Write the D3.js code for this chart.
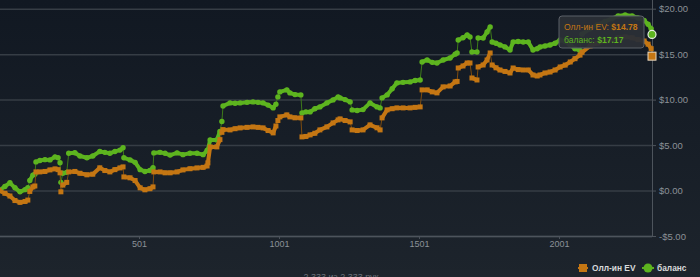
<!DOCTYPE html>
<html>
<head>
<meta charset="utf-8">
<script src="https://cdn.jsdelivr.net/npm/d3@7"></script>
<style>
    html, body { margin: 0; padding: 0; background: #151c25; }
    svg { display: block; font-family: "Liberation Sans", Arial, sans-serif; }
</style>
</head>
<body>
<svg id="chart"></svg>
<script>
// hand numbers (x) and the two running totals in dollars
const hands = [1, 22, 40, 58, 76, 94, 104, 111, 122, 129, 133, 147, 165, 183, 201, 212, 219, 222, 229, 243,
    250, 272, 290, 315, 336, 361, 379, 397, 415, 433, 444, 447, 469, 487, 505, 522, 540, 551, 554, 576,
    594, 612, 637, 658, 683, 708, 730, 744, 747, 755, 779, 790, 797, 801, 826, 844, 862, 887, 908, 926,
    944, 962, 980, 990, 997, 1004, 1029, 1040, 1058, 1079, 1083, 1097, 1112, 1129, 1147, 1172, 1194, 1212, 1219, 1237,
    1255, 1262, 1280, 1301, 1326, 1351, 1362, 1369, 1387, 1405, 1422, 1444, 1469, 1487, 1505, 1512, 1530, 1548, 1565, 1587,
    1612, 1630, 1637, 1641, 1658, 1673, 1683, 1690, 1708, 1712, 1730, 1744, 1755, 1762, 1776, 1790, 1808, 1826, 1837, 1855,
    1873, 1891, 1908, 1923, 1933, 1951, 1969, 1987, 2005, 2023, 2041, 2058, 2076, 2083, 2112, 2137, 2165, 2190, 2212, 2237,
    2262, 2283, 2305, 2319, 2330, 2333]

const allInEV = [0.00, -0.30, -0.60, -1.10, -1.30, -1.20, -1.05, -0.10, 0.40, 0.50, 2.05, 2.05, 2.10, 2.27, 2.38, 2.30, 1.95, -0.14, 0.60, 0.90,
    2.05, 2.10, 1.90, 1.73, 1.80, 2.50, 2.20, 2.05, 2.30, 2.49, 2.60, 1.50, 1.40, 1.10, 0.30, 0.08, 0.20, 0.40, 2.05, 2.05,
    1.95, 1.95, 2.05, 2.27, 2.40, 2.49, 2.55, 2.70, 3.04, 4.80, 4.80, 5.60, 6.40, 6.70, 6.67, 6.80, 6.89, 6.95, 7.00, 6.95,
    6.89, 6.60, 6.34, 7.10, 7.70, 8.10, 8.32, 8.10, 8.00, 7.99, 5.90, 5.95, 6.12, 6.30, 6.67, 7.00, 7.44, 7.77, 7.88, 7.70,
    7.55, 6.67, 6.60, 6.67, 7.22, 6.90, 6.67, 7.99, 8.87, 9.00, 9.09, 9.09, 9.09, 9.15, 9.20, 11.07, 11.07, 10.85, 10.74, 11.40,
    11.50, 11.95, 12.00, 13.48, 13.70, 14.03, 14.03, 12.38, 12.16, 13.59, 13.81, 14.36, 15.13, 13.81, 13.50, 13.26, 13.10, 12.93, 13.48, 13.30,
    13.26, 13.26, 12.71, 12.60, 12.71, 12.93, 13.04, 13.26, 13.59, 13.80, 14.14, 14.50, 14.90, 15.20, 15.90, 16.20, 16.40, 16.60, 16.80, 16.90,
    16.80, 16.60, 16.45, 16.10, 15.60, 14.78]

const balance = [0.00, 0.45, 0.85, 0.30, -0.14, 0.10, 0.30, 1.10, 1.70, 1.80, 3.15, 3.30, 3.40, 3.37, 3.70, 3.60, 3.05, 0.90, 1.90, 2.00,
    4.10, 4.15, 3.80, 3.60, 3.80, 4.30, 4.20, 4.10, 4.30, 4.45, 4.70, 3.60, 3.37, 3.10, 2.30, 2.10, 2.20, 2.50, 4.14, 4.20,
    4.10, 3.90, 4.14, 3.95, 4.10, 4.10, 3.95, 4.40, 4.47, 5.57, 5.57, 6.50, 7.60, 9.30, 9.64, 9.60, 9.64, 9.70, 9.75, 9.70,
    9.64, 9.40, 9.09, 9.50, 10.30, 10.85, 11.07, 10.74, 10.55, 10.52, 8.54, 8.65, 8.65, 9.00, 9.20, 9.64, 9.97, 10.30, 10.19, 10.00,
    9.75, 8.87, 8.80, 8.90, 9.64, 9.20, 9.09, 10.19, 10.52, 11.20, 11.84, 11.90, 11.95, 12.10, 12.16, 14.14, 14.36, 14.10, 14.03, 14.36,
    14.58, 15.00, 15.13, 16.56, 16.80, 17.11, 16.89, 15.24, 15.24, 16.78, 16.78, 17.44, 17.99, 16.34, 16.20, 16.01, 15.80, 15.46, 16.34, 16.40,
    16.34, 16.34, 15.46, 15.60, 15.79, 15.90, 16.01, 16.20, 16.56, 16.40, 16.00, 15.60, 15.40, 17.20, 17.80, 18.20, 18.60, 18.90, 19.20, 19.31,
    19.20, 18.98, 18.70, 18.30, 17.80, 17.17]

const seriesNames = ["Олл-ин EV", "баланс"]
const yTicks = [-5, 0, 5, 10, 15, 20]
const xTicks = [501, 1001, 1501, 2001]
const footerText = "2,333 из 2,333 рук"

const width = 700
const height = 277
const plotRight = 652
const plotBottom = 236

const orange = "#c47613"
const green = "#5db41f"

const svg = d3.select("#chart")
    .attr("width", width)
    .attr("height", height)

let defs = svg.append("defs")
let grad = defs.append("linearGradient")
    .attr("id", "bg")
    .attr("x1", 0).attr("y1", 0)
    .attr("x2", 0).attr("y2", 1)
grad.append("stop").attr("offset", "0%").attr("stop-color", "#111822")
grad.append("stop").attr("offset", "100%").attr("stop-color", "#1d242c")

svg.append("rect")
    .attr("width", width)
    .attr("height", height)
    .attr("fill", "url(#bg)")

let xScale = d3.scaleLinear()
    .domain([1, 2333])
    .range([-1, plotRight])

let yScale = d3.scaleLinear()
    .domain([-5, 20])
    .range([plotBottom, 8.7])

// grid
let grid = svg.append("g")
    .attr("transform", `translate(${plotRight}, 0)`)
    .call(d3.axisLeft(yScale).tickValues(yTicks).tickSize(plotRight).tickFormat(""))
grid.select(".domain").remove()
grid.selectAll("line").attr("stroke", "#363d45").attr("stroke-width", 1.5)

// right axis
let yAxis = svg.append("g")
    .attr("transform", `translate(${plotRight}, 0)`)
    .call(d3.axisRight(yScale)
        .tickValues(yTicks)
        .tickSize(4)
        .tickSizeOuter(0)
        .tickPadding(3)
        .tickFormat(d => (d < 0 ? "-$" : "$") + Math.abs(d).toFixed(2)))
yAxis.select(".domain").attr("stroke", "#4d545c").attr("d", `M0.5,0V${plotBottom}`)
yAxis.selectAll("line").attr("stroke", "#4d545c")
yAxis.selectAll("text")
    .attr("fill", "#8b9197")
    .style("font-size", "9.5px")

// bottom axis
let xAxis = svg.append("g")
    .attr("transform", `translate(0, ${plotBottom})`)
    .call(d3.axisBottom(xScale)
        .tickValues(xTicks)
        .tickSize(3)
        .tickSizeOuter(0)
        .tickPadding(2)
        .tickFormat(d3.format("d")))
xAxis.select(".domain").attr("stroke", "#4d545c").attr("stroke-width", 1.5).attr("d", `M0,0.5H${plotRight}`)
xAxis.selectAll("line").attr("stroke", "#4d545c")
xAxis.selectAll("text")
    .attr("fill", "#8b9197")
    .style("font-size", "9px")

// series
let pts = hands.map((h, i) => ({ hand: h, ev: allInEV[i], bal: balance[i] }))

function drawSeries(key, color, dark, shape)
{
    let g = svg.append("g")
    for (let i = 1; i < pts.length; i++)
    {
        let x0 = xScale(pts[i - 1].hand), x1 = xScale(pts[i].hand)
        let jump = (x1 - x0) < 2
        g.append("line")
            .attr("x1", x0).attr("y1", yScale(pts[i - 1][key]))
            .attr("x2", x1).attr("y2", yScale(pts[i][key]))
            .attr("stroke", jump ? dark : color)
            .attr("stroke-width", jump ? 1 : 4)
            .attr("stroke-linecap", "round")
    }
    if (shape === "square")
    {
        g.selectAll("rect")
            .data(pts)
            .enter()
            .append("rect")
            .attr("x", d => xScale(d.hand) - 2.5)
            .attr("y", d => yScale(d[key]) - 2.5)
            .attr("width", 5)
            .attr("height", 5)
            .attr("fill", color)
    }
    else
    {
        g.selectAll("circle")
            .data(pts)
            .enter()
            .append("circle")
            .attr("cx", d => xScale(d.hand))
            .attr("cy", d => yScale(d[key]))
            .attr("r", 2.7)
            .attr("fill", color)
    }
}

drawSeries("bal", green, "#3d7a1a", "circle")
drawSeries("ev", orange, "#7d4c10", "square")

// hover markers on last point
let last = pts[pts.length - 1]
svg.append("rect")
    .attr("x", xScale(last.hand) - 4)
    .attr("y", yScale(last.ev) - 4)
    .attr("width", 8)
    .attr("height", 8)
    .attr("fill", orange)
    .attr("stroke", "#e8d8c0")
    .attr("stroke-width", 1)
svg.append("circle")
    .attr("cx", xScale(last.hand))
    .attr("cy", yScale(last.bal))
    .attr("r", 4)
    .attr("fill", green)
    .attr("stroke", "#e6f0e0")
    .attr("stroke-width", 1.2)

// tooltip
let tip = svg.append("g").attr("transform", "translate(559, 16)")
tip.append("rect")
    .attr("width", 85)
    .attr("height", 32)
    .attr("rx", 3)
    .attr("fill", "#2b2f37")
    .attr("fill-opacity", 0.95)
    .attr("stroke", "#5b6068")
let t1 = tip.append("text").attr("x", 5).attr("y", 14).style("font-size", "8.6px").attr("fill", orange)
t1.append("tspan").text(seriesNames[0] + ": ")
t1.append("tspan").attr("font-weight", "bold").text("$" + last.ev.toFixed(2))
let t2 = tip.append("text").attr("x", 5).attr("y", 27).style("font-size", "8.6px").attr("fill", green)
t2.append("tspan").text(seriesNames[1] + ": ")
t2.append("tspan").attr("font-weight", "bold").text("$" + last.bal.toFixed(2))

// legend
let legend = svg.append("g").attr("transform", "translate(0, 268)")
legend.append("line").attr("x1", 578).attr("x2", 588).attr("stroke", orange).attr("stroke-width", 2)
legend.append("rect").attr("x", 579).attr("y", -4).attr("width", 8).attr("height", 8).attr("fill", orange)
legend.append("text").attr("x", 592).attr("y", 3.2).style("font-size", "8.4px").style("font-weight", "bold")
    .attr("fill", "#d8dadc").text(seriesNames[0])
legend.append("line").attr("x1", 642).attr("x2", 654).attr("stroke", green).attr("stroke-width", 2)
legend.append("circle").attr("cx", 648).attr("cy", 0).attr("r", 4.5).attr("fill", green)
legend.append("text").attr("x", 657).attr("y", 3.2).style("font-size", "8.4px").style("font-weight", "bold")
    .attr("fill", "#d8dadc").text(seriesNames[1])

// footer, partly below the frame like the reference
svg.append("text")
    .attr("x", 341)
    .attr("y", 280)
    .attr("text-anchor", "middle")
    .style("font-size", "9px")
    .attr("fill", "#6b7178")
    .text(footerText)
</script>
</body>
</html>
